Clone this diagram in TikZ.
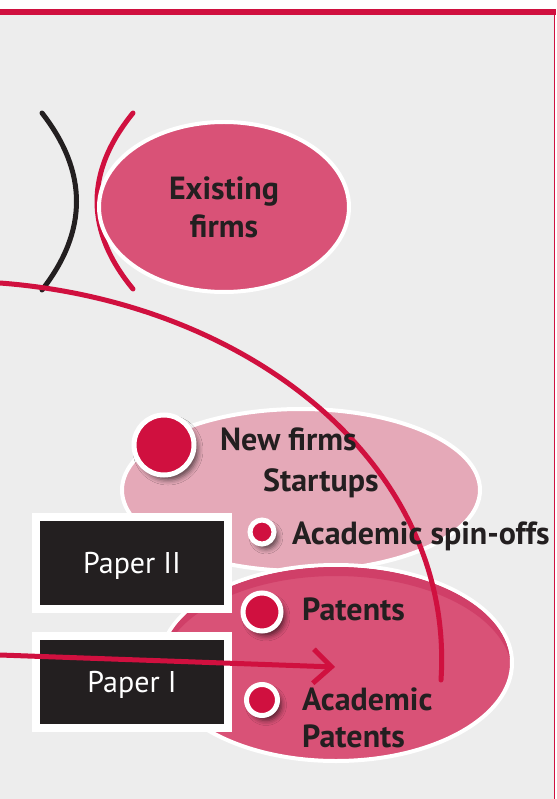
\documentclass[tikz,border=0pt]{standalone}
\usepackage{fontspec}
\setmainfont{PT Sans}
\usetikzlibrary{shapes.geometric,shadows.blur,arrows.meta}

\definecolor{crim}{HTML}{D0103F}
\definecolor{rose}{HTML}{D95277}
\definecolor{rosedark}{HTML}{D03F68}
\definecolor{blush}{HTML}{E5A9B8}
\definecolor{ink}{HTML}{231F20}
\definecolor{paperbg}{HTML}{EDEDED}

\tikzset{
  redline/.style={draw=crim, line width=5pt, line cap=round},
  inkline/.style={draw=ink, line width=5pt, line cap=round},
  blob/.style={ellipse, draw=white, line width=4pt, inner sep=0pt},
  dot/.style={circle, fill=crim, draw=white, line width=5pt, inner sep=0pt,
    blur shadow={shadow xshift=4pt, shadow yshift=-5pt, shadow blur radius=5pt, shadow opacity=60}},
  lbl/.style={anchor=base west, inner sep=0pt, text=ink, font=\fontsize{32}{34}\selectfont\bfseries},
  paperbox/.style={rectangle, fill=ink, draw=white, line width=8pt, inner sep=0pt,
    minimum width=192pt, minimum height=92pt, text=white,
    font=\fontsize{30}{32}\selectfont, text height=21pt, text depth=0pt}
}

\begin{document}
\begin{tikzpicture}[x=1pt,y=1pt]
  \useasboundingbox (0,0) rectangle (556,-799);
  % frame: white page, grey panel, crimson rules
  \fill[white] (0,0) rectangle (556,-799);
  \fill[paperbg] (0,-12) rectangle (554,-799);
  \fill[crim] (0,-9) rectangle (556,-15);
  \fill[crim] (553.5,-12) rectangle (555,-799);

  % the two brackets left of the existing firms
  \coordinate (bktop) at (42,-113);
  \coordinate (bkbot) at (42,-290);
  \coordinate (rbtop) at (133,-113);
  \coordinate (rbbot) at (133,-289);
  \draw[inkline] (bktop) .. controls (88,-172) and (88,-231) .. (bkbot);
  \draw[redline] (rbtop) .. controls (85,-172) and (85,-231) .. (rbbot);

  % ellipses
  \node[blob, fill=rose, minimum width=250pt, minimum height=170pt, align=center,
        text=ink, font=\fontsize{32}{38}\selectfont\bfseries] (existing) at (224,-207) {Existing\\firms};
  \node[blob, fill=blush, minimum width=358pt, minimum height=162pt] (newfirms) at (301,-490) {};
  \node[blob, fill=rose, minimum width=352pt, minimum height=196pt] (patents) at (336,-663) {};
  \begin{scope}
    \clip (patents.center) ellipse [x radius=174, y radius=96];
    \fill[rosedark, even odd rule] (336,-663) ellipse [x radius=176, y radius=98]
                                   (336,-674) ellipse [x radius=176, y radius=98];
  \end{scope}

  % paper boxes
  \node[paperbox] (paper2) at (132,-563) {Paper II};
  \node[paperbox] (paper1) at (132,-682) {Paper I};

  % long crimson arc and arrow
  \coordinate (arcstart) at (0,-283);
  \coordinate (arcend) at (441,-680);
  \draw[redline] (arcstart) .. controls (250,-302) and (455,-465) .. (arcend);
  \coordinate (arrowstart) at (0,-655);
  \coordinate (arrowtip) at (335,-667);
  \draw[redline, line cap=butt, -{Straight Barb[length=18pt, width=34pt]}] (arrowstart) -- (arrowtip);

  % bullet dots
  \node[dot, minimum size=60pt] (dnew) at (164,-445) {};
  \node[dot, minimum size=24pt] (dspin) at (262,-532) {};
  \node[dot, minimum size=38pt] (dpat) at (262,-612) {};
  \node[dot, minimum size=31pt] (dacad) at (262,-700) {};

  % labels
  \node[lbl] (tnew) at (220,-450) {New firms};
  \node[lbl] (tstart) at (263,-491) {Startups};
  \node[lbl] (tspin) at (292,-544) {Academic spin-offs};
  \node[lbl] (tpat) at (302,-620) {Patents};
  \node[lbl] (tacad) at (302,-710) {Academic};
  \node[lbl] (tacad2) at (302,-747) {Patents};
\end{tikzpicture}
\end{document}
